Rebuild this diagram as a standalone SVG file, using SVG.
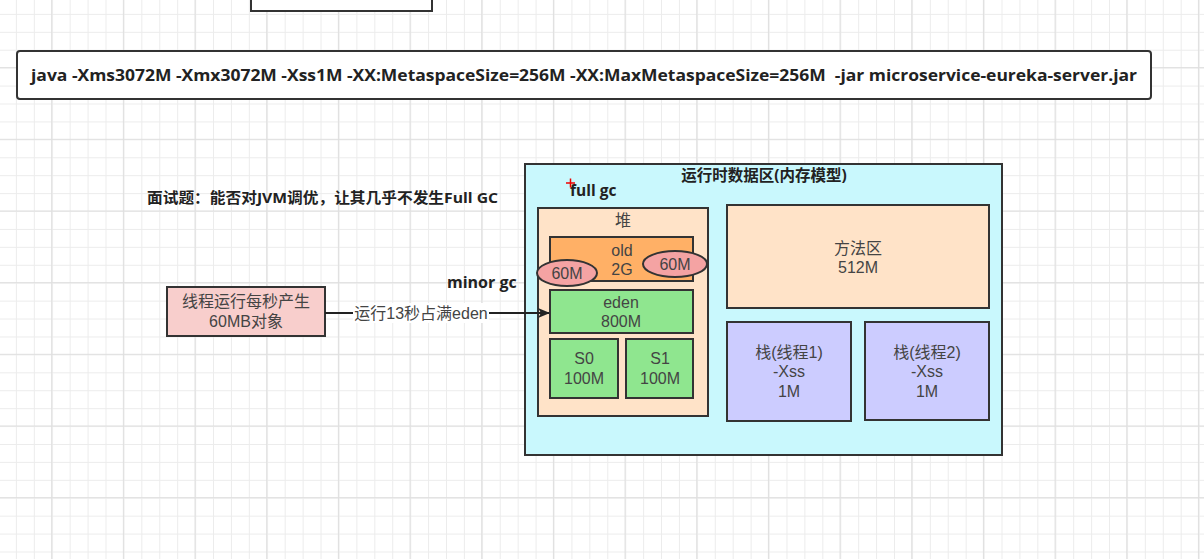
<svg xmlns="http://www.w3.org/2000/svg" width="1204" height="559" viewBox="0 0 1204 559">
<style>
.bx{stroke:#333;stroke-width:2}
.t{font-family:"Liberation Sans","Noto Sans CJK SC",sans-serif;font-size:16px;fill:#444;text-anchor:middle}
.b{font-family:"Open Sans","Noto Sans CJK SC",sans-serif;font-weight:bold;fill:#222}
</style>
<defs>
<pattern id="minor" width="17.92" height="17.92" patternUnits="userSpaceOnUse" x="15.9" y="13.9">
<path d="M0 0.5H17.92M0.5 0V17.92" stroke="#ececec" stroke-width="1" fill="none"/>
</pattern>
<pattern id="major" width="71.67" height="71.67" patternUnits="userSpaceOnUse" x="51.2" y="138.8">
<path d="M0 0.5H71.67M0.5 0V71.67" stroke="#dfdfdf" stroke-width="1.2" fill="none"/>
</pattern>
<marker id="arr" markerWidth="12" markerHeight="10" refX="11" refY="5" orient="auto" markerUnits="userSpaceOnUse">
<path d="M0 0L12 5L0 10L3 5Z" fill="#222"/>
</marker>
</defs>
<rect width="1204" height="559" fill="#fff"/>
<rect width="1204" height="559" fill="url(#minor)"/>
<rect width="1204" height="559" fill="url(#major)"/>

<g id="topbox"><rect x="251" y="-10" width="181" height="21" fill="#fff" class="bx"/></g>

<g id="cmd">
<rect x="17" y="51" width="1134" height="48" rx="3" fill="#fff" class="bx"/>
<text x="31" y="81" class="b" font-size="16" xml:space="preserve" textLength="1106" lengthAdjust="spacingAndGlyphs">java -Xms3072M -Xmx3072M -Xss1M -XX:MetaspaceSize=256M -XX:MaxMetaspaceSize=256M  -jar microservice-eureka-server.jar</text>
</g>

<g id="title"><text x="147" y="203" class="b" font-size="15" textLength="351" lengthAdjust="spacingAndGlyphs">面试题：能否对JVM调优，让其几乎不发生Full GC</text></g>

<g id="thread">
<rect x="167" y="287" width="158" height="49" fill="#f8cecc" class="bx"/>
<text x="246" y="307" class="t">线程运行每秒产生</text>
<text x="246" y="327" class="t">60MB对象</text>
</g>

<g id="runtime">
<rect x="525" y="164" width="477" height="291" fill="#c9f8fd" class="bx"/>
<text x="764" y="181" class="b" font-size="15.5" text-anchor="middle">运行时数据区(内存模型)</text>
</g>

<g id="fullgc">
<text x="570" y="196" class="b" font-size="15.5">full gc</text>
<path d="M566 183H575M570.5 178.5V187.5" stroke="#e00" stroke-width="1.5"/>
</g>

<g id="minorgc"><text x="447" y="288" class="b" font-size="16">minor gc</text></g>

<g id="heap">
<rect x="538" y="208" width="170" height="208" fill="#ffe3c8" class="bx"/>
<text x="623" y="226" class="t">堆</text>
</g>

<g id="old">
<rect x="550" y="237" width="143" height="44" fill="#ffb066" class="bx"/>
<text x="622" y="256" class="t">old</text>
<text x="622" y="275" class="t">2G</text>
</g>

<g id="eden">
<rect x="550" y="290" width="143" height="43" fill="#8fe68f" class="bx"/>
<text x="621" y="308" class="t">eden</text>
<text x="621" y="327" class="t">800M</text>
</g>

<g id="s0">
<rect x="550" y="339" width="68" height="59" fill="#8fe68f" class="bx"/>
<text x="584" y="364" class="t">S0</text>
<text x="584" y="384" class="t">100M</text>
</g>

<g id="s1">
<rect x="626" y="339" width="67" height="59" fill="#8fe68f" class="bx"/>
<text x="660" y="364" class="t">S1</text>
<text x="660" y="384" class="t">100M</text>
</g>

<g id="e60a">
<ellipse cx="567" cy="273" rx="30" ry="13" fill="#f4a3a3" class="bx"/>
<text x="567" y="279" class="t" font-size="16">60M</text>
</g>

<g id="e60b">
<ellipse cx="675" cy="264" rx="32" ry="13" fill="#f4a3a3" class="bx"/>
<text x="675" y="270" class="t" font-size="16">60M</text>
</g>

<g id="method">
<rect x="727" y="205" width="262" height="103" fill="#ffe3c8" class="bx"/>
<text x="858" y="254" class="t">方法区</text>
<text x="858" y="273" class="t">512M</text>
</g>

<g id="stack1">
<rect x="727" y="322" width="124" height="99" fill="#ccccff" class="bx"/>
<text x="789" y="358" class="t">栈(线程1)</text>
<text x="789" y="377" class="t">-Xss</text>
<text x="789" y="397" class="t">1M</text>
</g>

<g id="stack2">
<rect x="865" y="322" width="124" height="98" fill="#ccccff" class="bx"/>
<text x="927" y="358" class="t">栈(线程2)</text>
<text x="927" y="377" class="t">-Xss</text>
<text x="927" y="397" class="t">1M</text>
</g>

<g id="connectors">
<line x1="325" y1="313" x2="549" y2="313" stroke="#222" stroke-width="2" marker-end="url(#arr)"/>
<rect x="353" y="303" width="136" height="20" fill="#fff"/>
<text x="421" y="319" class="t">运行13秒占满eden</text>
</g>
</svg>
